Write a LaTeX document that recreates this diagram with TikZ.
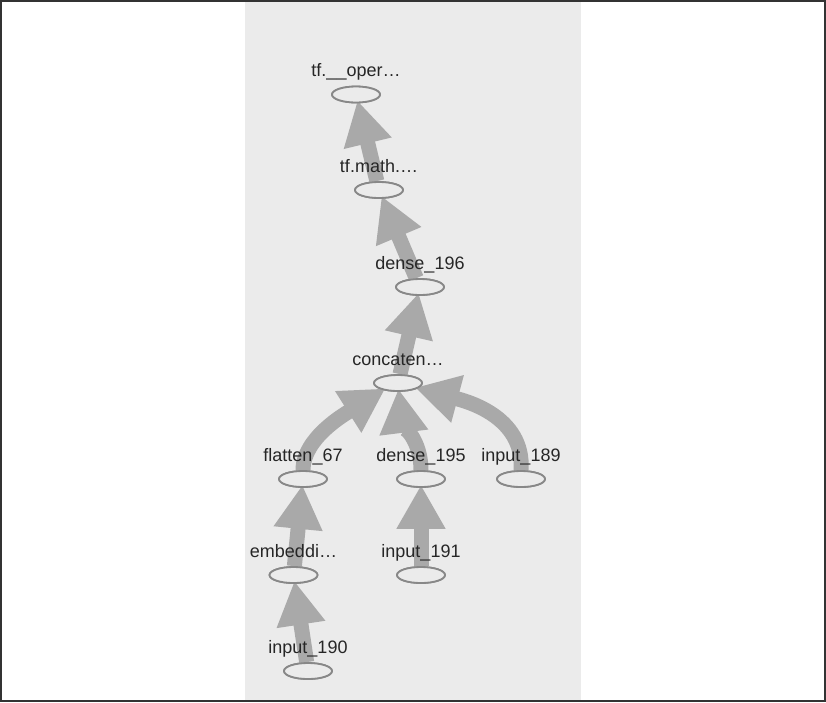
\documentclass[tikz,border=0pt]{standalone}
\usepackage{fontspec}
\setmainfont{Liberation Sans}
\usetikzlibrary{arrows.meta,shapes.geometric}
\definecolor{panel}{HTML}{EBEBEB}
\definecolor{edgec}{HTML}{A9A9A9}
\definecolor{ellc}{HTML}{888888}
\definecolor{txt}{HTML}{262626}
\definecolor{framec}{HTML}{333333}
\tikzset{
  opnode/.style={ellipse, draw=ellc, line width=1.8pt, fill=panel,
    minimum width=48pt, minimum height=16pt, inner sep=0pt},
  lab/.style={font=\fontsize{18}{20}\selectfont, text=txt, anchor=base, inner sep=0pt},
  flow/.style={draw=edgec, line width=15pt, shorten >=-3pt,
    -{Triangle[length=44pt,width=46pt]}},
}
\begin{document}
\begin{tikzpicture}[x=1pt,y=-1pt]
\useasboundingbox (0,0) rectangle (826,702);
% panel
\fill[panel] (245,2) rectangle (581,700);
% nodes
\node[opnode] (n1)   at (356,94.5) {};
\node[opnode] (n2)   at (379,190) {};
\node[opnode] (d196) at (420,287) {};
\node[opnode] (conc) at (398,383) {};
\node[opnode] (fl)   at (303,479) {};
\node[opnode] (d195) at (421,479) {};
\node[opnode] (i189) at (521,479) {};
\node[opnode] (emb)  at (293.5,575) {};
\node[opnode] (i191) at (421,575) {};
\node[opnode] (i190) at (308,671) {};
% edges
\draw[flow] (n2) -- (n1);
\draw[flow] (d196) -- (n2);
\draw[flow] (conc) -- (d196);
\draw[flow] (fl.north) .. controls +(0,-32) and +(-38,24) .. (conc.205);
\draw[flow] (d195.north) .. controls +(0,-30) and +(4,32) .. (conc.275);
\draw[flow] (i189.north) .. controls +(4,-55) and +(45,12) .. (conc.345);
\draw[flow] (emb) -- (fl);
\draw[flow] (i191) -- (d195);
\draw[flow] (i190) -- (emb);
% redraw node outlines on top
\foreach \n in {n1,n2,d196,conc,fl,d195,i189,emb,i191,i190}{
  \draw[ellc, line width=1.8pt, fill=panel] (\n.center) ellipse [x radius=24pt, y radius=8pt];
}
% labels
\node[lab] (l1)  at ([yshift=18pt]n1.center) {tf.\_\_oper…};
\node[lab] (l2)  at ([yshift=18pt]n2.center) {tf.math.…};
\node[lab] (l3)  at ([yshift=18pt]d196.center) {dense\_196};
\node[lab] (l4)  at ([yshift=18pt]conc.center) {concaten…};
\node[lab] (l5)  at ([yshift=18pt]fl.center) {flatten\_67};
\node[lab] (l6)  at ([yshift=18pt]d195.center) {dense\_195};
\node[lab] (l7)  at ([yshift=18pt]i189.center) {input\_189};
\node[lab] (l8)  at ([yshift=18pt]emb.center) {embeddi…};
\node[lab] (l9)  at ([yshift=18pt]i191.center) {input\_191};
\node[lab] (l10) at ([yshift=18pt]i190.center) {input\_190};
% frame
\draw[framec, line width=2.2pt] (1.1,1.1) rectangle (824.9,700.9);
\end{tikzpicture}
\end{document}
